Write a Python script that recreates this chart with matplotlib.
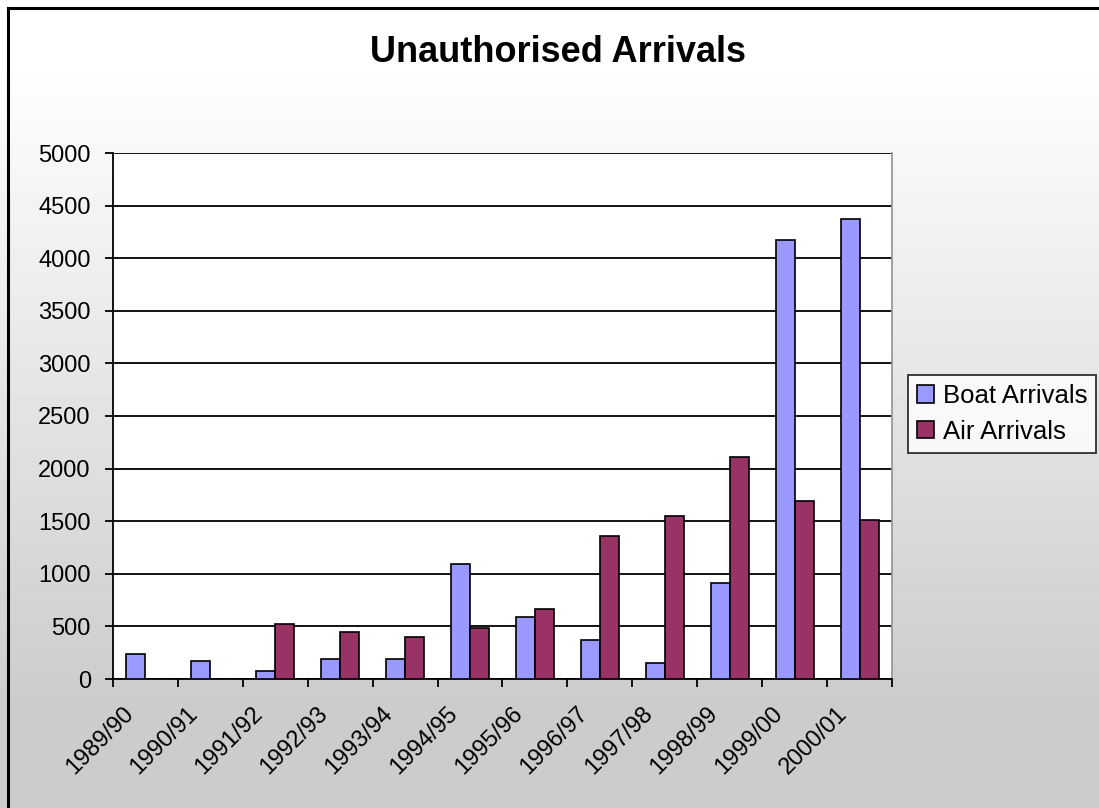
import numpy as np
import matplotlib
matplotlib.use("Agg")
import matplotlib.pyplot as plt
from matplotlib.patches import Patch
from matplotlib.lines import Line2D

plt.rcParams['font.family'] = ['Liberation Sans', 'DejaVu Sans']

years = ["1989/90", "1990/91", "1991/92", "1992/93", "1993/94", "1994/95",
         "1995/96", "1996/97", "1997/98", "1998/99", "1999/00", "2000/01"]
boat = [238, 172, 76, 191, 191, 1097, 594, 368, 156, 916, 4176, 4369]
air = [0, 0, 525, 448, 401, 487, 661, 1355, 1549, 2108, 1691, 1512]
yticks = list(range(0, 5001, 500))

boat_color = "#9999FF"
air_color = "#993366"

W, H = 1099, 808
fig = plt.figure(figsize=(W / 100, H / 100), dpi=100)

# background gradient
bg = fig.add_axes([0, 0, 1, 1], zorder=-10)
rows = np.arange(H)
vals = np.clip((rows - 60) / (700 - 60), 0, 1)
shade = 1.0 - vals * (1.0 - 0.80)
img = np.repeat(shade[:, None], 4, axis=1)
bg.imshow(img, cmap='gray', vmin=0, vmax=1, aspect='auto', extent=[0, 1, 0, 1], origin='upper')
bg.set_xlim(0, 1)
bg.set_ylim(0, 1)
bg.axis('off')

# border
fig.add_artist(Line2D([8 / W, 8 / W], [0, 1 - 8 / H], color='black', lw=2.2, transform=fig.transFigure))
fig.add_artist(Line2D([8 / W, 1], [1 - 8 / H, 1 - 8 / H], color='black', lw=2.2, transform=fig.transFigure))

left, right, top, bottom = 113, 892, 153, 679
ax = fig.add_axes([left / W, 1 - bottom / H, (right - left) / W, (bottom - top) / H])
ax.set_facecolor('white')

x = np.arange(len(years))
w = 0.2925
ax.bar(x - w / 2, boat, width=w, color=boat_color, edgecolor='black', linewidth=1.2, zorder=3, label='Boat Arrivals')
ax.bar(x + w / 2, air, width=w, color=air_color, edgecolor='black', linewidth=1.2, zorder=3, label='Air Arrivals')

ax.set_xlim(-0.5, len(years) - 0.5)
ax.set_ylim(0, 5000)
ax.set_yticks(yticks)
ax.set_yticklabels([str(v) for v in yticks])
ax.yaxis.grid(True, color='black', linewidth=1.3, zorder=1)
ax.set_axisbelow(True)

ax.set_xticks(np.arange(len(years) + 1) - 0.5)
ax.set_xticklabels([])
ax.set_xticks(x - 0.12, minor=True)
ax.set_xticklabels(years, minor=True, rotation=45, ha='right', va='top', fontsize=17)
ax.tick_params(axis='x', which='major', direction='out', length=6, width=1.3, color='black')
ax.tick_params(axis='x', which='minor', length=0, pad=17)
ax.tick_params(axis='y', direction='out', length=6, width=1.3, labelsize=17, pad=10)

for s in ['left', 'bottom']:
    ax.spines[s].set_color('black')
    ax.spines[s].set_linewidth(1.3)
ax.spines['top'].set_visible(False)
ax.spines['right'].set_color('#999999')
ax.spines['right'].set_linewidth(1.3)

fig.text(558 / W, 1 - 52 / H, "Unauthorised Arrivals", ha='center', va='center',
         fontsize=26, fontweight='bold')

handles = [Patch(facecolor=boat_color, edgecolor='black', linewidth=1.2),
           Patch(facecolor=air_color, edgecolor='black', linewidth=1.2)]
leg = fig.legend(handles, ['Boat Arrivals', 'Air Arrivals'], loc='upper left',
                 bbox_to_anchor=(908 / W, 1 - 375 / H), fontsize=18.5, frameon=True,
                 fancybox=False, handlelength=0.65, handleheight=0.65, handletextpad=0.35,
                 borderpad=0.35, labelspacing=0.45, borderaxespad=0)
leg.get_frame().set_edgecolor('black')
leg.get_frame().set_linewidth(1.3)
leg.get_frame().set_facecolor('white')

fig.savefig('out.png', dpi=100)
